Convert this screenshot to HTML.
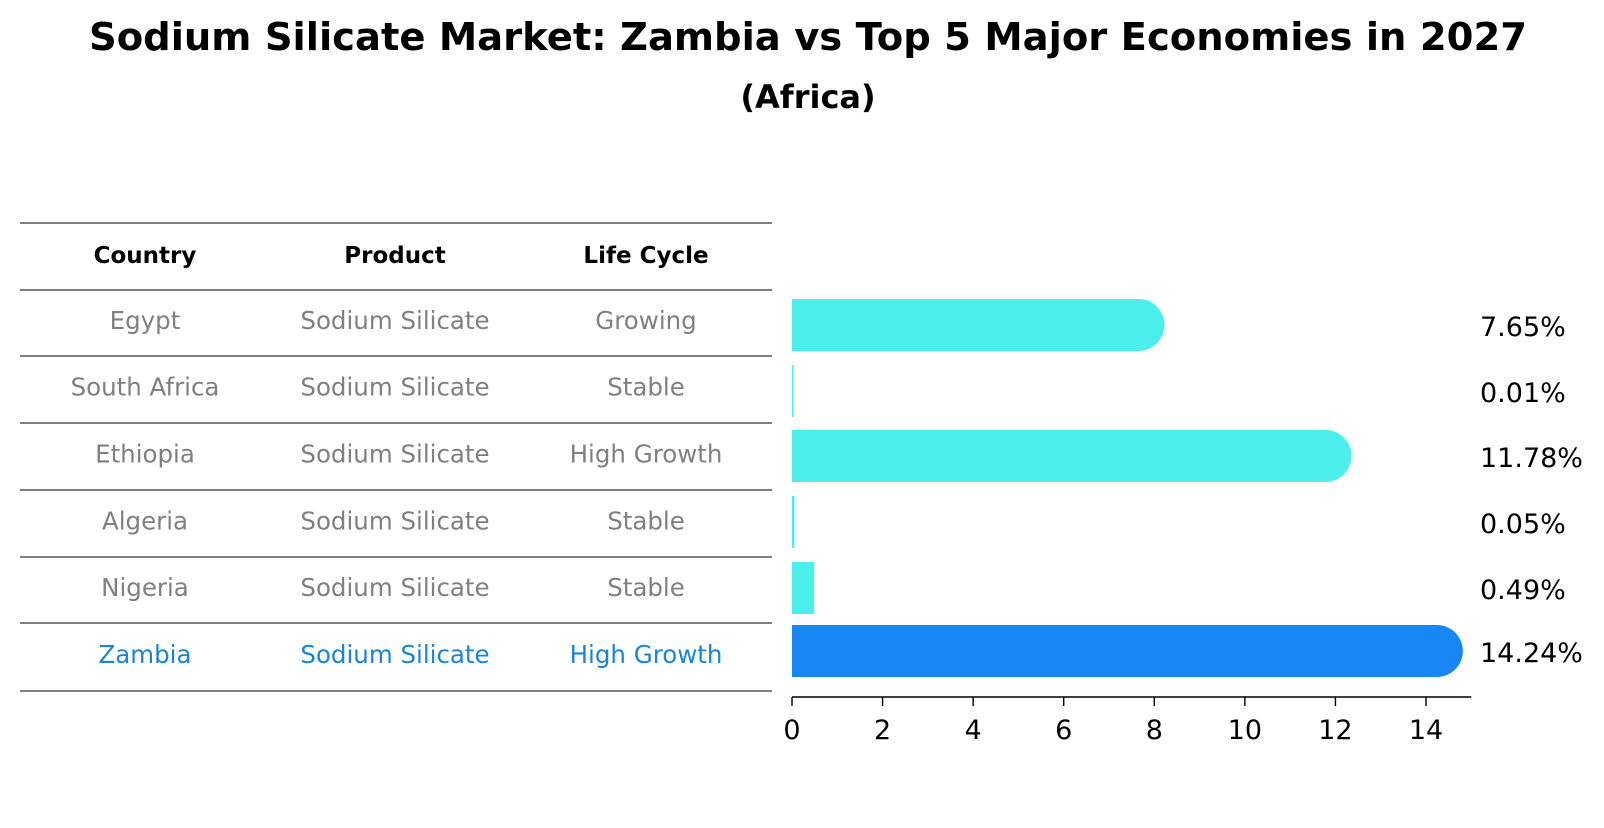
<!DOCTYPE html>
<html><head><meta charset="utf-8"><style>
body{margin:0;background:#fff;font-family:"Liberation Sans","DejaVu Sans",sans-serif;}
</style></head><body>
<svg width="1604" height="823" xmlns="http://www.w3.org/2000/svg" font-family="'DejaVu Sans', 'Liberation Sans', sans-serif">
<text x="808" y="50" text-anchor="middle" font-size="38.5" font-weight="bold">Sodium Silicate Market: Zambia vs Top 5 Major Economies in 2027</text>
<text x="808" y="108" text-anchor="middle" font-size="32" font-weight="bold">(Africa)</text>
<g id="table"></g>
<g id="bars"></g>
</svg>
<script>
const countries=["Egypt","South Africa","Ethiopia","Algeria","Nigeria","Zambia"];
const products=["Sodium Silicate","Sodium Silicate","Sodium Silicate","Sodium Silicate","Sodium Silicate","Sodium Silicate"];
const lifeCycles=["Growing","Stable","High Growth","Stable","Stable","High Growth"];
const values=[7.65,0.01,11.78,0.05,0.49,14.24];
const ticks=[0,2,4,6,8,10,12,14];
const NS="http://www.w3.org/2000/svg";
function mk(tag,attrs,parent,txt){const e=document.createElementNS(NS,tag);for(const k in attrs)e.setAttribute(k,attrs[k]);if(txt!==undefined)e.textContent=txt;parent.appendChild(e);return e;}
const tbl=document.getElementById('table');
const lines=[223,290,356,423,490,557,623,691];
lines.forEach(y=>{const l=mk('line',{x1:20,x2:772,y1:y,y2:y,stroke:'#000','stroke-width':1},tbl);

});
const colX=[145,395,646];
["Country","Product","Life Cycle"].forEach((h,i)=>{const t=mk('text',{x:colX[i],y:263,'text-anchor':'middle','font-size':23,'font-weight':'bold'},tbl,h);

});
countries.forEach((c,r)=>{const col=r===countries.length-1?'#1a85d6':'#808080';
const cy=(lines[r+1]+lines[r+2])/2;
[c,products[r],lifeCycles[r]].forEach((v,i)=>{const t=mk('text',{x:colX[i],y:cy+6,'text-anchor':'middle','font-size':24.5,fill:col},tbl,v);

});});
const g=document.getElementById('bars');
const x0=792,scale=(1426-792)/14,bh=52;
const xs=v=>x0+v*scale;
const barY=[325,391,456,522,588,651];
values.forEach((v,i)=>{const w=v*scale,y=barY[i]-bh/2;const col=i===values.length-1?'#1a85f4':'#4beeea';
let el;
if(w>bh){el=mk('path',{d:`M${x0},${y}H${x0+w}A${bh/2},${bh/2} 0 0 1 ${x0+w},${y+bh}H${x0}Z`,fill:col},g);}
else{el=mk('rect',{x:x0,y:y,width:Math.max(w,1.5),height:bh,fill:col},g);}


const t=mk('text',{x:1480,y:barY[i]+11,'font-size':27},g,values[i].toFixed(2)+'%');

});
const ax=mk('line',{x1:x0,x2:xs(15),y1:697,y2:697,stroke:'#000','stroke-width':1.6},g);


ticks.forEach(tk=>{const l=mk('line',{x1:xs(tk),x2:xs(tk),y1:697,y2:706,stroke:'#000','stroke-width':1.4},g);


const t=mk('text',{x:xs(tk),y:739,'text-anchor':'middle','font-size':27},g,tk);

});
</script>
</body></html>
